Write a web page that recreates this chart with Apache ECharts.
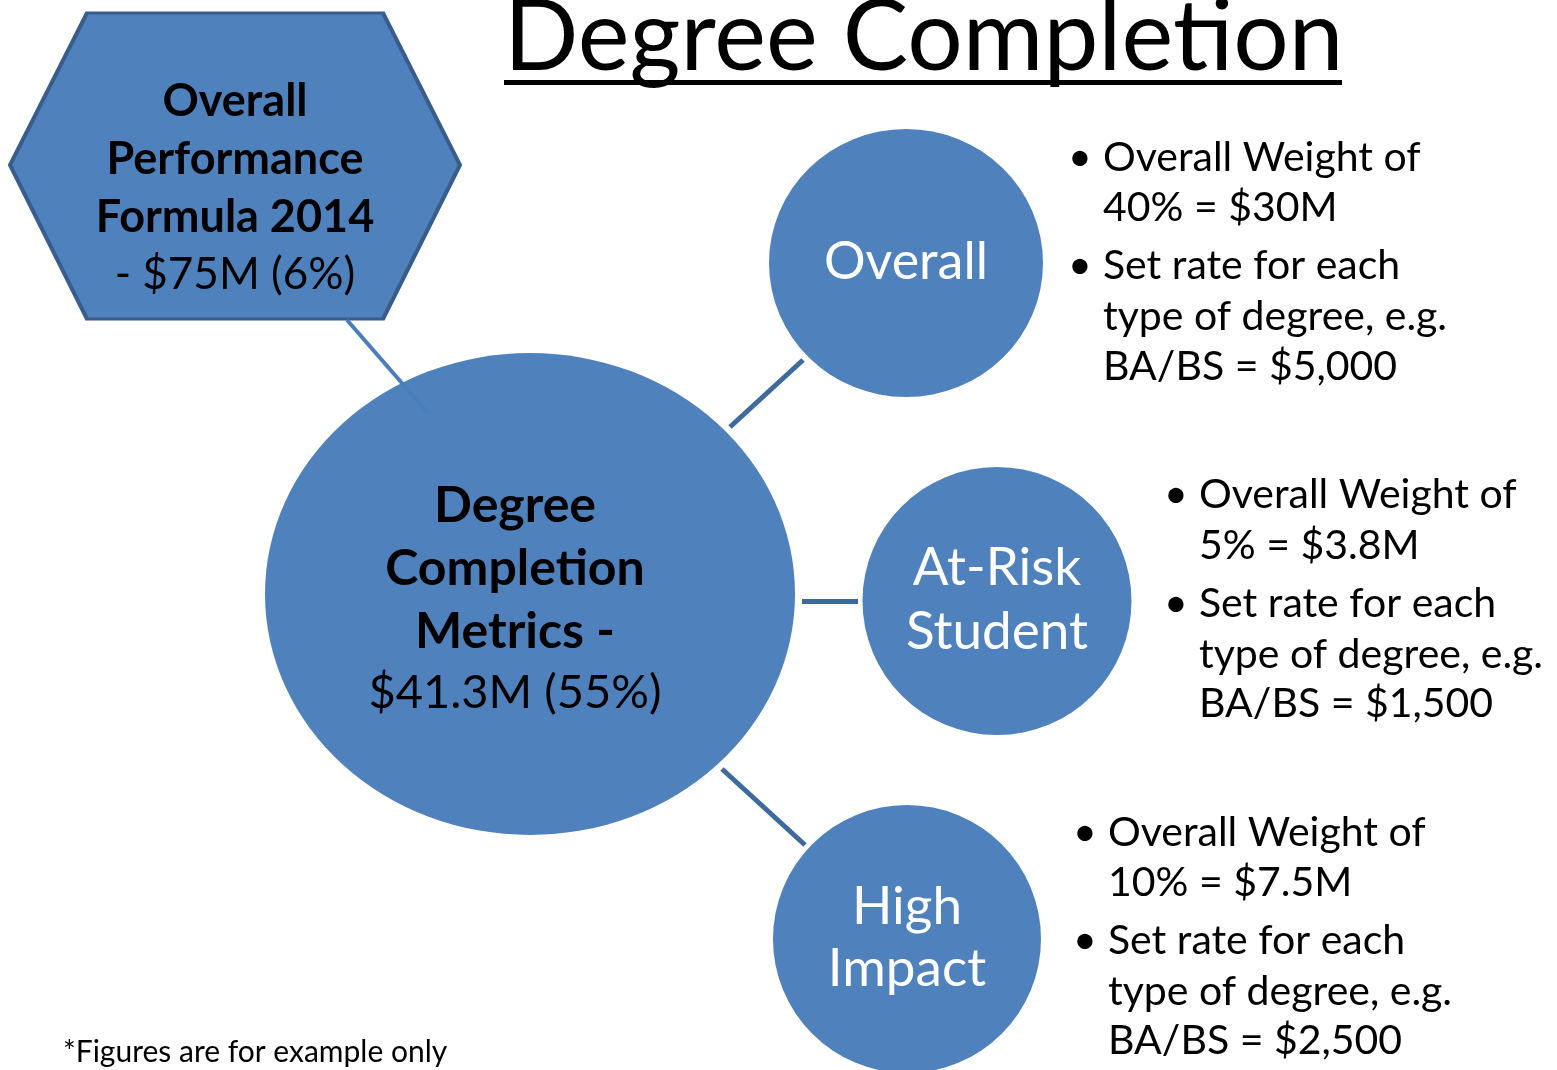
<!DOCTYPE html>
<html>
<head>
<meta charset="utf-8">
<script src="https://cdn.jsdelivr.net/npm/echarts@6/dist/echarts.min.js"></script>
<style>
  html, body { margin: 0; padding: 0; background: #fff; }
  #main { width: 1557px; height: 1070px; }
</style>
</head>
<body>
<div id="main"></div>
<script>
// 图形节点（六边形 + 圆）
var nodeNames = ['hex', 'main', 'overall', 'atrisk', 'high'];
var nodeX = [235, 530, 906, 997, 907];
var nodeY = [166, 594, 263, 601, 939];
var nodeW = [450, 530, 274, 269, 268];
var nodeH = [306, 482, 268, 268, 268];

// 连接线
var linkFrom = [[347, 320], [730, 427], [802, 601], [722, 769]];
var linkTo = [[428, 413], [803, 360], [858, 601], [805, 845]];

// 标题
var titleText = 'Degree Completion';
var titlePos = [504, 38];
var underline = [[504, 82], [1342, 82]];

// 形状内文字
var hexText = ['Overall', 'Performance', 'Formula 2014', '- $75M (6%)'];
var hexBold = [true, true, true, false];
var hexTextY = [101, 159, 217, 275];
var mainText = ['Degree', 'Completion', 'Metrics -', '$41.3M (55%)'];
var mainBold = [true, true, true, false];
var mainTextY = [506, 569, 632, 693];
var overallText = ['Overall'];
var overallTextY = [262];
var atRiskText = ['At-Risk', 'Student'];
var atRiskTextY = [568, 632];
var highText = ['High', 'Impact'];
var highTextY = [907, 969];

// 说明文字（项目符号）
var overallBullets = ['Overall Weight of', '40% = $30M', 'Set rate for each', 'type of degree, e.g.', 'BA/BS = $5,000'];
var overallBulletY = [158, 208, 266, 317, 367];
var atRiskBullets = ['Overall Weight of', '5% = $3.8M', 'Set rate for each', 'type of degree, e.g.', 'BA/BS = $1,500'];
var atRiskBulletY = [495, 546, 604, 655, 704];
var highBullets = ['Overall Weight of', '10% = $7.5M', 'Set rate for each', 'type of degree, e.g.', 'BA/BS = $2,500'];
var highBulletY = [833, 883, 941, 992, 1041];
var bulletStarts = [0, 2];
var bulletX = [1077, 1173, 1082];
var bulletTextX = [1103, 1199, 1108];

var footnote = '*Figures are for example only';
var footnotePos = [63, 1052];

var FONT = 'Lato';
var hexPath = 'path://M77,0 L373,0 L450,152 L373,306 L77,306 L0,152 Z';

var myChart = echarts.init(document.getElementById('main'));

var shapeData = [];
nodeNames.forEach(function (name, i) {
    shapeData.push({
        name: name,
        value: [nodeX[i], nodeY[i]],
        symbol: name == 'hex' ? hexPath : 'circle',
        symbolSize: [nodeW[i], nodeH[i]],
        itemStyle: name == 'hex'
            ? { color: '#4F81BD', borderColor: '#385D8A', borderWidth: 3.5, opacity: 1 }
            : { color: '#4F81BD', opacity: 1 }
    });
});

// 居中文字（粗体一种字号，常规体一种字号）
var centerLabels = [];
function addCenter(lines, ys, x, bold, color, size, normalSize) {
    lines.forEach(function (t, i) {
        var isBold = bold && bold[i];
        centerLabels.push({
            value: [x, ys[i]],
            label: {
                formatter: t,
                fontWeight: isBold ? 'bold' : 'normal',
                color: color,
                fontSize: isBold ? size : normalSize
            }
        });
    });
}
addCenter(hexText, hexTextY, 235, hexBold, '#000', 45, 44);
addCenter(mainText, mainTextY, 515, mainBold, '#000', 50, 47);
addCenter(overallText, overallTextY, 906, null, '#fff', 52, 52);
addCenter(atRiskText, atRiskTextY, 997, null, '#fff', 53, 53);
addCenter(highText, highTextY, 907, null, '#fff', 53, 53);

// 左对齐文字
var leftLabels = [];
function addBullets(lines, ys, k) {
    lines.forEach(function (t, i) {
        leftLabels.push({ value: [bulletTextX[k], ys[i]], label: { formatter: t } });
        if (bulletStarts.indexOf(i) >= 0) {
            leftLabels.push({ value: [bulletX[k] - 9, ys[i]], label: { formatter: '•' } });
        }
    });
}
addBullets(overallBullets, overallBulletY, 0);
addBullets(atRiskBullets, atRiskBulletY, 1);
addBullets(highBullets, highBulletY, 2);
leftLabels.push({ value: footnotePos, label: { formatter: footnote, fontSize: 30 } });
leftLabels.push({ value: titlePos, label: { formatter: titleText, fontSize: 98 } });

var lineData = [];
linkFrom.forEach(function (p, i) {
    lineData.push({
        coords: [p, linkTo[i]],
        lineStyle: i == 0 ? { color: '#4A7EBB', width: 4, opacity: 1 } : { color: '#3F6A9E', width: 5, opacity: 1 }
    });
});
lineData.push({ coords: underline, lineStyle: { color: '#000', width: 5, opacity: 1 } });

var option = {
    backgroundColor: '#fff',
    animation: false,
    grid: { left: 0, right: 0, top: 0, bottom: 0 },
    xAxis: { type: 'value', min: 0, max: 1557, show: false },
    yAxis: { type: 'value', min: 0, max: 1070, inverse: true, show: false },
    series: [{
        type: 'scatter',
        z: 2,
        silent: true,
        itemStyle: { opacity: 1 },
        data: shapeData
    }, {
        type: 'lines',
        coordinateSystem: 'cartesian2d',
        z: 3,
        silent: true,
        polyline: false,
        lineStyle: { opacity: 1 },
        data: lineData
    }, {
        type: 'scatter',
        z: 4,
        silent: true,
        symbolSize: 0,
        itemStyle: { opacity: 1 },
        label: {
            show: true,
            position: 'inside',
            align: 'center',
            verticalAlign: 'middle',
            fontFamily: FONT
        },
        data: centerLabels
    }, {
        type: 'scatter',
        z: 4,
        silent: true,
        symbolSize: 0,
        itemStyle: { opacity: 1 },
        label: {
            show: true,
            position: 'inside',
            align: 'left',
            verticalAlign: 'middle',
            fontFamily: FONT,
            fontSize: 41,
            color: '#000'
        },
        data: leftLabels
    }]
};
myChart.setOption(option);
</script>
</body>
</html>
